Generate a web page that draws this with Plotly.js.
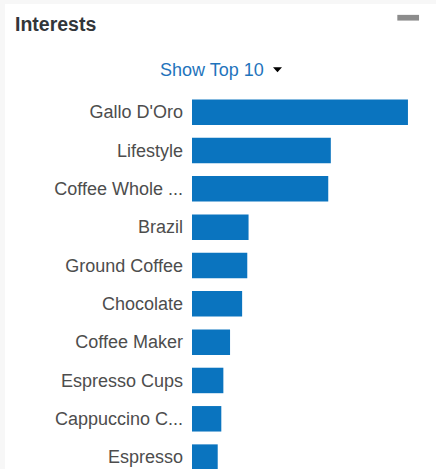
<!DOCTYPE html>
<html>
<head>
<meta charset="utf-8">
<script src="https://cdn.plot.ly/plotly-3.0.1.min.js"></script>
<style>
  html, body { margin: 0; padding: 0; background: #f7f7f7; width: 436px; height: 469px; overflow: hidden; }
  #chart { position: absolute; left: 5px; top: 4px; width: 431px; height: 465px; background: #fff; }
</style>
</head>
<body>
<div id="chart"></div>
<script>
const categories = ["Gallo D'Oro", "Lifestyle", "Coffee Whole ...", "Brazil", "Ground Coffee",
  "Chocolate", "Coffee Maker", "Espresso Cups", "Cappuccino C...", "Espresso"];
const values = [8.4, 5.4, 5.3, 2.2, 2.15, 1.95, 1.48, 1.22, 1.14, 1.0];
const chartTitle = "Interests";
const filterLabel = "Show Top 10";

const FONT = "Liberation Sans, Arial, sans-serif";

const trace = {
  type: "bar",
  orientation: "h",
  x: values,
  y: categories,
  marker: { color: "#0a74bf", line: { width: 0 } },
  hoverinfo: "x+y"
};

const layout = {
  width: 431,
  height: 465,
  margin: { l: 187, r: 8, t: 89.35, b: 0 },
  paper_bgcolor: "#ffffff",
  plot_bgcolor: "#ffffff",
  bargap: 0.335,
  showlegend: false,
  font: { family: FONT, color: "#4d4d4d" },
  xaxis: { visible: false, range: [0, 9.18], fixedrange: true },
  yaxis: {
    type: "category",
    range: [9.31, -0.5],
    showgrid: false,
    zeroline: false,
    showline: false,
    ticks: "",
    ticklabelstandoff: 8,
    tickfont: { family: FONT, size: 18, color: "#4d4d4d" },
    fixedrange: true
  },
  annotations: [
    {
      text: "<b>" + chartTitle + "</b>",
      xref: "paper", yref: "paper",
      x: -0.758, y: 1.1833, xanchor: "left", yanchor: "middle",
      showarrow: false,
      font: { family: FONT, size: 19.5, color: "#32363a" }
    },
    {
      text: filterLabel,
      xref: "paper", yref: "paper",
      x: 0.0847, y: 1.0622, xanchor: "center", yanchor: "middle",
      showarrow: false,
      font: { family: FONT, size: 18, color: "#1f74bc" }
    }
  ],
  shapes: [
    {
      type: "path", xref: "paper", yref: "paper",
      path: "M 0.3432 1.0683 L 0.3814 1.0683 L 0.3623 1.0549 Z",
      fillcolor: "#000000", line: { width: 0 }
    },
    {
      type: "rect", xref: "paper", yref: "paper",
      x0: 0.870, x1: 0.962, y0: 1.1926, y1: 1.2078,
      fillcolor: "#8c8c8c", line: { width: 0 }
    }
  ]
};

Plotly.newPlot("chart", [trace], layout, { displayModeBar: false, staticPlot: false });
</script>
</body>
</html>
